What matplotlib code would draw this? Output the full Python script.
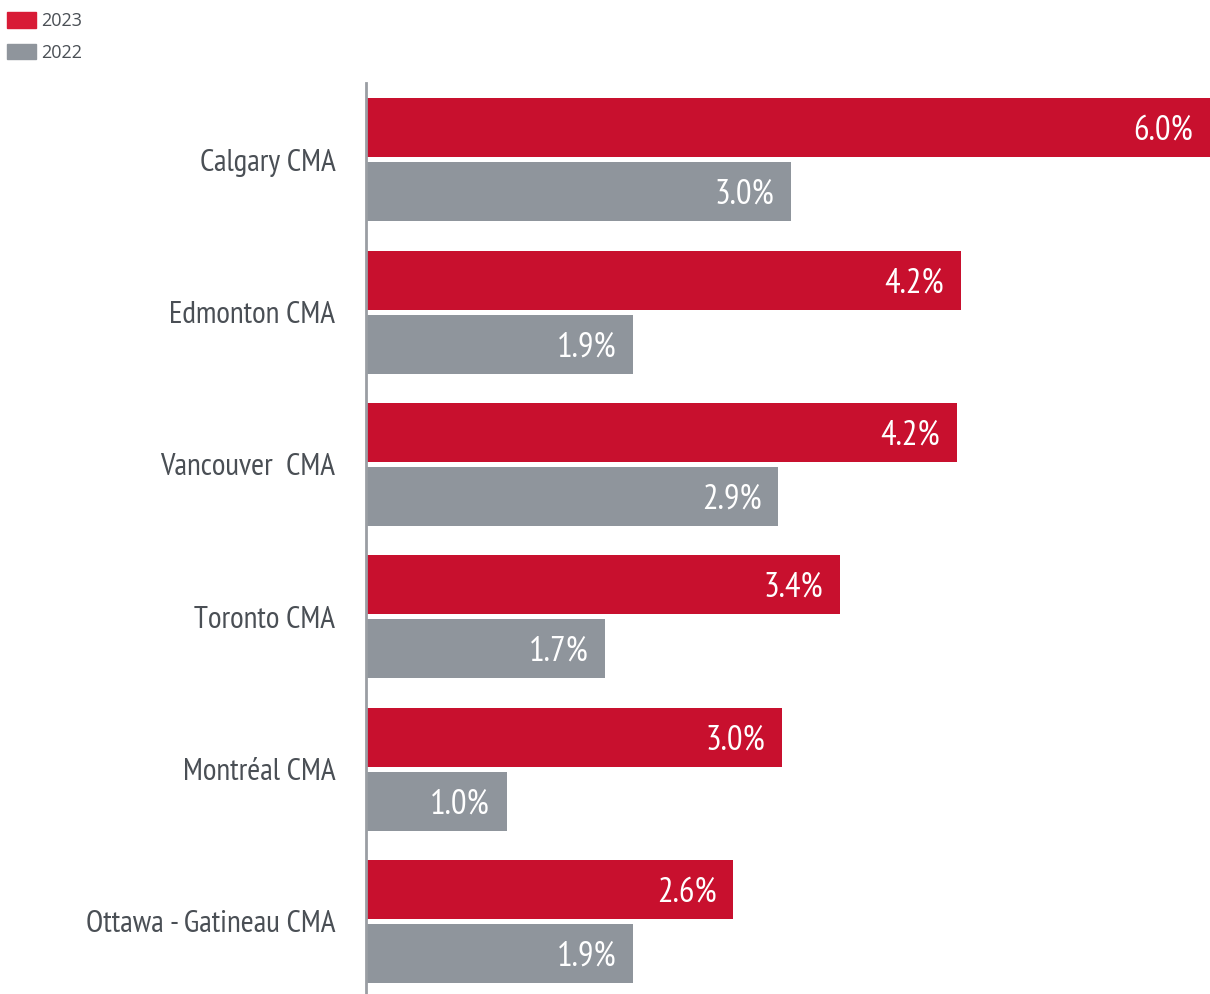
import matplotlib
matplotlib.use("Agg")
import matplotlib.pyplot as plt
from matplotlib.patches import Patch
import numpy as np

# Data (bar lengths estimated, labels as printed)
cities = ["Calgary CMA", "Edmonton CMA", "Vancouver  CMA", "Toronto CMA",
          "Montréal CMA", "Ottawa - Gatineau CMA"]
vals_2023 = [6.0, 4.23, 4.2, 3.37, 2.96, 2.61]
vals_2022 = [3.02, 1.9, 2.93, 1.7, 1.0, 1.9]
labels_2023 = ["6.0%", "4.2%", "4.2%", "3.4%", "3.0%", "2.6%"]
labels_2022 = ["3.0%", "1.9%", "2.9%", "1.7%", "1.0%", "1.9%"]

red = "#C8102E"
grey = "#8F959C"
text_col = "#4A4F55"
narrow = ["PT Sans Narrow", "Open Sans Condensed", "DejaVu Sans"]

fig = plt.figure(figsize=(12.1, 9.94), dpi=100)
ax = fig.add_axes([366 / 1210, 0, 1 - 366 / 1210, 1 - 83 / 994])

y = np.arange(len(cities))
h = 0.387
off = 0.21
ax.barh(y - off, vals_2023, height=h, color=red)
ax.barh(y + off, vals_2022, height=h, color=grey)

# Value labels inside the bar ends
pad = 0.12
for i in range(len(cities)):
    ax.text(vals_2023[i] - pad, y[i] - off + 0.02, labels_2023[i], color="white",
            ha="right", va="center", fontsize=25, family=narrow)
    ax.text(vals_2022[i] - pad, y[i] + off + 0.02, labels_2022[i], color="white",
            ha="right", va="center", fontsize=25, family=narrow)

ax.set_xlim(0, 6.0)
ax.set_ylim(5.476, -0.504)
ax.set_yticks(y)
ax.set_yticklabels(cities, fontsize=22.5, color=text_col, family=narrow)
ax.tick_params(axis="y", length=0, pad=22)
ax.set_xticks([])
for s in ["top", "right", "bottom"]:
    ax.spines[s].set_visible(False)
ax.spines["left"].set_color("#9A9EA3")
ax.spines["left"].set_linewidth(2)

handles = [Patch(color="#D81B36", label="2023"), Patch(color=grey, label="2022")]
fig.legend(handles=handles, loc="upper left", bbox_to_anchor=(0.0, 0.995),
           frameon=False, prop={"family": ["Open Sans", "DejaVu Sans"], "size": 13},
           handlelength=1.6, handleheight=0.95, handletextpad=0.3,
           labelspacing=0.75, borderaxespad=0.0, borderpad=0.4,
           labelcolor=text_col)

fig.savefig("out.png", dpi=100)
